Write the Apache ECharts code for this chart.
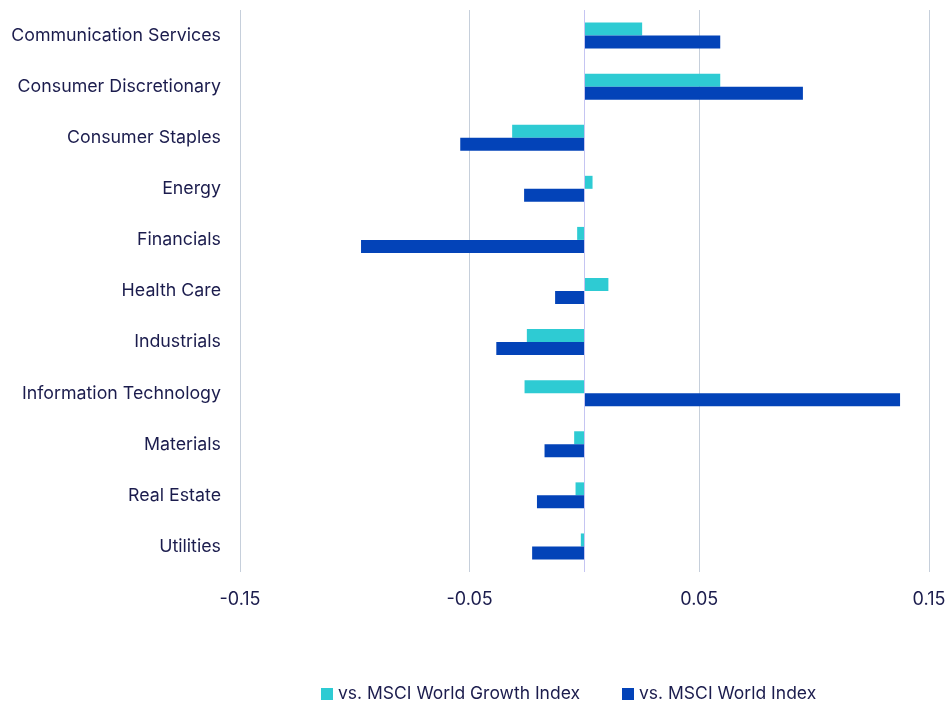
<!DOCTYPE html>
<html>
<head>
<meta charset="utf-8">
<script src="https://cdn.jsdelivr.net/npm/echarts@6/dist/echarts.min.js"></script>
<style>
  html, body { margin: 0; padding: 0; background: #fff; }
  #chart { width: 949px; height: 702px; }
</style>
</head>
<body>
<div id="chart"></div>
<script>
const sectors = [
	'Communication Services', 'Consumer Discretionary', 'Consumer Staples', 'Energy',
	'Financials', 'Health Care', 'Industrials', 'Information Technology',
	'Materials', 'Real Estate', 'Utilities'
];
const vsGrowth = [0.0251, 0.0591, -0.0315, 0.0035, -0.0032, 0.0104, -0.0251, -0.0261, -0.0045, -0.0039, -0.0016];
const vsWorld = [0.0591, 0.0951, -0.0541, -0.0263, -0.0973, -0.0128, -0.0384, 0.1374, -0.0174, -0.0207, -0.0228];
const seriesNames = ['vs. MSCI World Growth Index', 'vs. MSCI World Index'];

const textColor = '#1b1c4d';
const fontFamily = 'Inter, "Open Sans", sans-serif';

const chart = echarts.init( document.getElementById( 'chart' ) );

chart.setOption( {
	animation: false,
	grid: { left: 240, right: 20, top: 10, bottom: 130, containLabel: false },
	legend: {
		top: 680,
		left: 316,
		itemWidth: 12,
		itemHeight: 12,
		itemGap: 42,
		icon: 'rect',
		textStyle: { color: textColor, fontSize: 17.5, fontFamily: fontFamily },
		data: seriesNames
	},
	xAxis: {
		type: 'value',
		min: -0.15,
		max: 0.15,
		interval: 0.1,
		axisLine: { show: false },
		axisTick: { show: false },
		splitLine: { lineStyle: { color: '#c6cfdb', width: 1 } },
		axisLabel: {
			color: textColor,
			fontSize: 18,
			fontFamily: fontFamily,
			margin: 19,
			formatter: ( v ) => String( Number( v.toFixed( 2 ) ) )
		}
	},
	yAxis: {
		type: 'category',
		data: sectors,
		inverse: true,
		axisLine: { show: false },
		axisTick: { show: false },
		axisLabel: {
			color: textColor,
			fontSize: 17.8,
			fontFamily: fontFamily,
			margin: 19
		}
	},
	series: [
		{
			name: seriesNames[ 0 ],
			type: 'bar',
			data: vsGrowth,
			barWidth: 13,
			barGap: '0%',
			itemStyle: { color: '#2ecbd3' },
			markLine: {
				silent: true,
				symbol: 'none',
				label: { show: false },
				lineStyle: { color: '#c5c5f2', width: 1, type: 'solid' },
				data: [ { xAxis: 0 } ]
			}
		},
		{
			name: seriesNames[ 1 ],
			type: 'bar',
			data: vsWorld,
			barWidth: 13,
			barGap: '0%',
			itemStyle: { color: '#0343b8' }
		}
	]
} );
</script>
</body>
</html>
